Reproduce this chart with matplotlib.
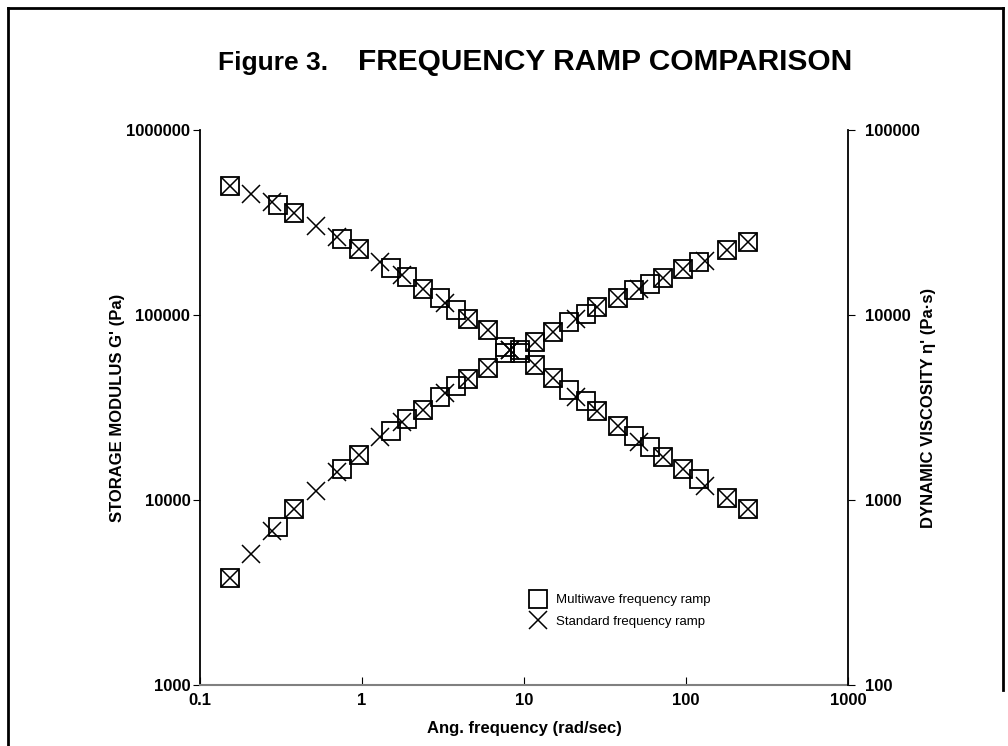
import matplotlib.pyplot as plt
from matplotlib.lines import Line2D

plt.rcParams['font.family'] = ['Liberation Sans', 'DejaVu Sans']

# multiwave frequency ramp (squares)
mw_freq = [0.153, 0.302, 0.380, 0.755, 0.958, 1.51, 1.90, 2.39, 3.03, 3.80, 4.53,
           6.03, 7.64, 9.45, 11.7, 15.2, 19.0, 24.2, 28.4, 38.2, 48.0, 60.3, 71.8,
           96.4, 120, 180, 240]
mw_gp = [3800, 7110, 8910, 14800, 17400, 23700, 27400, 30600, 35900, 41300, 45100,
         51500, 62100, 64700, 71700, 80500, 92000, 101000, 110000, 124000, 136000,
         148000, 159000, 178000, 193000, 224000, 249000]
mw_eta = [50000, 39300, 35500, 25900, 22600, 18000, 16000, 13900, 12300, 10600, 9500,
          8300, 6750, 6210, 5370, 4550, 3930, 3430, 3030, 2520, 2220, 1930, 1710,
          1470, 1300, 1030, 891]

# standard frequency ramp (crosses)
st_freq = [0.153, 0.206, 0.279, 0.380, 0.518, 0.705, 0.958, 1.29, 1.76, 2.39, 3.25,
           4.53, 6.03, 8.2, 11.7, 15.2, 20.9, 28.4, 38.2, 51.5, 71.8, 96.4, 131, 180, 240]
st_gp = [3800, 5100, 6790, 8910, 11200, 14100, 17400, 21800, 26500, 30600, 37800,
         45100, 51500, 64700, 71700, 80500, 94800, 110000, 124000, 139000, 159000,
         178000, 196000, 224000, 249000]
st_eta = [50000, 45100, 40900, 35500, 30400, 26500, 22600, 19400, 16500, 13900, 11600,
          9500, 8300, 6470, 5370, 4550, 3590, 3030, 2520, 2070, 1710, 1470, 1190, 1030, 891]

xticks = [0.1, 1, 10, 100, 1000]
yticks_left = [1000, 10000, 100000, 1000000]
yticks_right = [100, 1000, 10000, 100000]

fig = plt.figure(figsize=(10.08, 7.46), dpi=100)
ax1 = fig.add_axes([200/1008, 1-685/746, 648/1008, 555/746])
ax2 = ax1.twinx()

sq = dict(marker='s', ms=13, mfc='none', mec='black', mew=1.3, ls='none')
xx = dict(marker='x', ms=13, color='black', mew=1.1, ls='none')

ax1.plot(mw_freq, mw_gp, **sq)
ax1.plot(st_freq, st_gp, **xx)
ax2.plot(mw_freq, mw_eta, **sq)
ax2.plot(st_freq, st_eta, **xx)

for ax in (ax1, ax2):
    ax.set_xscale('log')
    ax.set_yscale('log')
    ax.set_xlim(0.1, 1000)
    ax.spines['top'].set_visible(False)
ax1.set_ylim(1000, 1000000)
ax2.set_ylim(100, 100000)

ax1.set_xticks(xticks)
ax1.set_xticklabels(['0.1', '1', '10', '100', '1000'], fontweight='bold', fontsize=12)
ax1.set_yticks(yticks_left)
ax1.set_yticklabels([str(v) for v in yticks_left], fontweight='bold', fontsize=12)
ax2.set_yticks(yticks_right)
ax2.set_yticklabels([str(v) for v in yticks_right], fontweight='bold', fontsize=12)
ax1.minorticks_off()
ax2.minorticks_off()

ax1.tick_params(axis='x', direction='in', length=6, pad=6, color='black')
ax1.tick_params(axis='y', direction='out', length=5, pad=2)
ax2.tick_params(axis='y', direction='out', length=5, pad=7)

ax1.spines['bottom'].set_color('#808080')
ax1.spines['bottom'].set_linewidth(1.5)
ax2.spines['bottom'].set_visible(False)
ax1.spines['left'].set_linewidth(1.3)
ax2.spines['right'].set_linewidth(1.3)
ax1.spines['right'].set_visible(False)
ax2.spines['left'].set_visible(False)

ax1.set_xlabel('Ang. frequency (rad/sec)', fontweight='bold', fontsize=12, labelpad=9)
ax1.set_ylabel("STORAGE MODULUS G' (Pa)", fontweight='bold', fontsize=12, labelpad=1)
ax2.set_ylabel("DYNAMIC VISCOSITY \u03b7' (Pa\u00b7s)", fontweight='bold', fontsize=12, labelpad=1)

fig.text(218/1008, 1-70/746, 'Figure 3.', fontsize=19, fontweight='bold', va='baseline')
fig.text(358/1008, 1-70/746, 'FREQUENCY RAMP COMPARISON', fontsize=21.5, fontweight='bold',
         va='baseline')

handles = [Line2D([], [], marker='s', ms=13, mfc='none', mec='black', mew=1.3, ls='none'),
           Line2D([], [], marker='x', ms=13, color='black', mew=1.1, ls='none')]
fig.legend(handles, ['Multiwave frequency ramp', 'Standard frequency ramp'],
           loc='center left', bbox_to_anchor=(527/1008, 1-611/746), frameon=False,
           fontsize=9.5, handletextpad=0.6, labelspacing=0.7, borderpad=0,
           borderaxespad=0, handlelength=1.6)

# page frame
fig.add_artist(Line2D([8/1008, 8/1008], [0, 1-8/746], color='black', lw=2))
fig.add_artist(Line2D([8/1008, 1003/1008], [1-8/746, 1-8/746], color='black', lw=2))
fig.add_artist(Line2D([1003/1008, 1003/1008], [1-8/746, 1-690/746], color='black', lw=2))

plt.savefig('out.png', dpi=100)
